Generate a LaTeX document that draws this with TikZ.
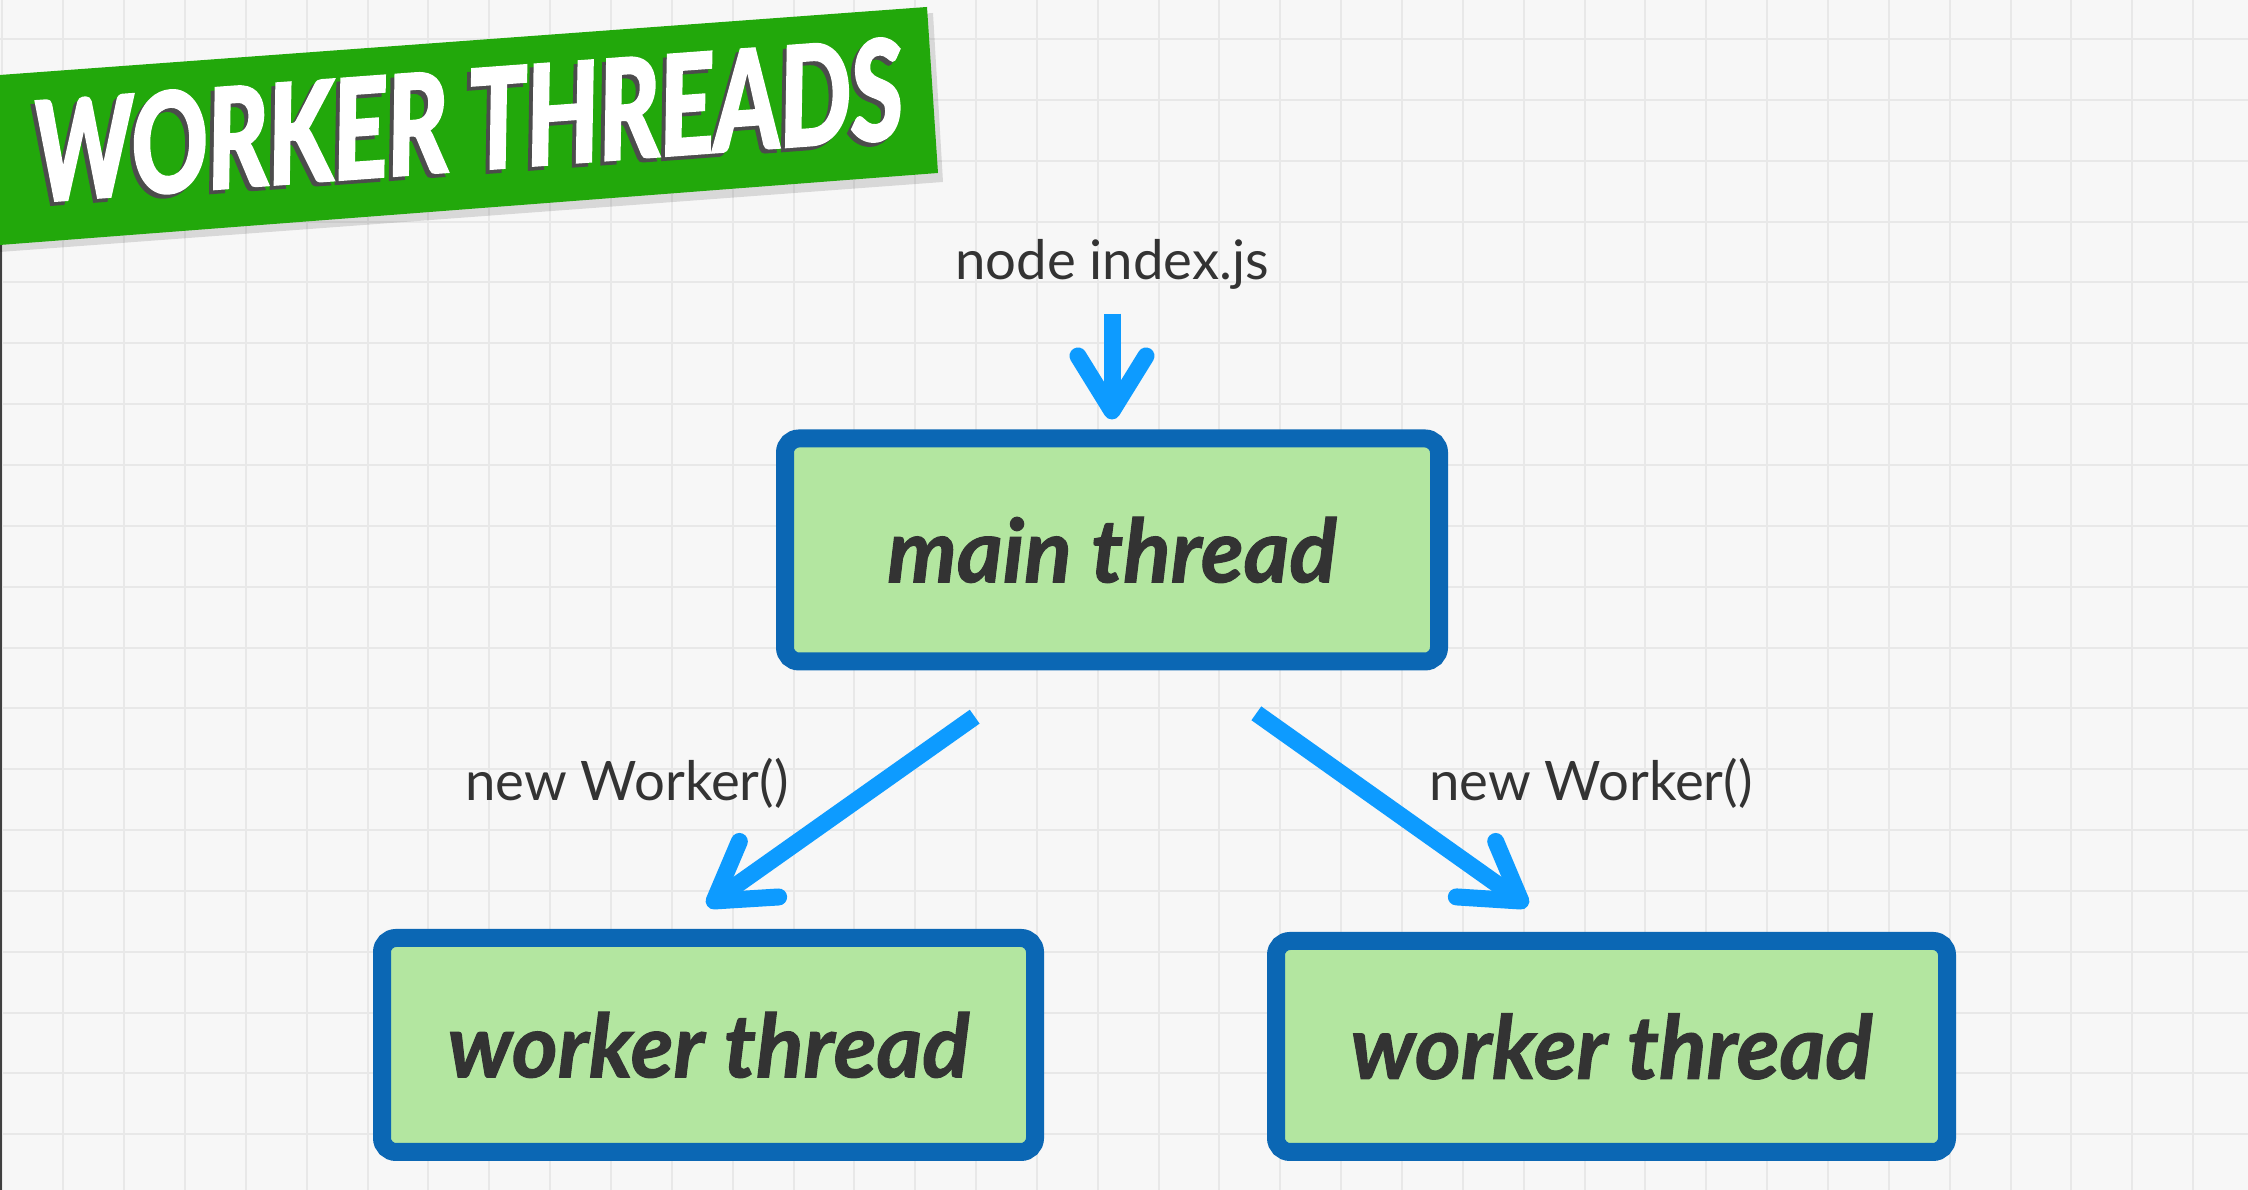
\documentclass[tikz,border=0pt]{standalone}
\usepackage{fontspec}
\setmainfont{Lato}
\newfontfamily\titlefont{Lato}[FakeBold=3]
\newfontfamily\boxfont{Lato}[FakeBold=1.2]
\usetikzlibrary{positioning,calc,arrows.meta}

\definecolor{paper}{HTML}{F7F7F7}
\definecolor{gridline}{HTML}{E8E8E8}
\definecolor{bannergreen}{HTML}{22A80B}
\definecolor{boxblue}{HTML}{0B67B4}
\definecolor{boxgreen}{HTML}{B3E6A0}
\definecolor{arrowblue}{HTML}{0D9BFF}
\definecolor{inkgray}{HTML}{333333}

\tikzset{
  threadbox/.style={draw=boxblue, fill=boxgreen, line width=0.18cm,
    rounded corners=0.14cm, text=inkgray,
    font=\fontsize{25}{30}\selectfont\boxfont\bfseries\itshape},
  flowarrow/.style={draw=arrowblue, line width=0.17cm,
    -{Straight Barb[length=0.55cm,width=0.68cm,round]}},
  codelabel/.style={text=inkgray, inner sep=0pt, font=\fontsize{15.5}{18}\selectfont},
}

\begin{document}
\begin{tikzpicture}
    \useasboundingbox (0,0) rectangle (22.48,11.9);

    % Paper with grid
    \fill[paper] (0,0) rectangle (22.48,11.9);
    \foreach \gx in {0,...,36}
        \draw[gridline, line width=0.02cm] ({0.0245+0.6085*\gx},0) -- ++(0,11.9);
    \foreach \gy in {0,...,18}
        \draw[gridline, line width=0.02cm] (0,{11.5095-0.6085*\gy}) -- ++(22.48,0);
    \draw[black!75, line width=0.02cm] (0.01,0) -- (0.01,9.5);

    % Title banner
    \fill[black, opacity=0.12] (0,11.09) -- (9.33,11.77) -- (9.43,10.08) -- (0,9.38) -- cycle;
    \fill[bannergreen] (0,11.15) -- (9.27,11.83) -- (9.38,10.17) -- (0,9.45) -- cycle;
    \node[rotate=4.2, text=black!70] at (4.64,10.66)
        {\resizebox{8.7cm}{1.0cm}{\titlefont\bfseries\itshape WORKER THREADS}};
    \node[rotate=4.2, text=white] (title) at (4.68,10.70)
        {\resizebox{8.7cm}{1.0cm}{\titlefont\bfseries\itshape WORKER THREADS}};

    % Command
    \node[codelabel] (cmd) at (11.12,9.26) {node index.js};

    % Threads
    \node[threadbox, minimum width=6.54cm, minimum height=2.23cm] (main) at (11.12,6.40) {main thread};
    \node[threadbox, minimum width=6.53cm, minimum height=2.14cm] (wl) at (7.085,1.45) {worker thread};
    \node[threadbox, minimum width=6.71cm, minimum height=2.11cm] (wr) at (16.115,1.435) {worker thread};

    % Labels
    \node[codelabel] (newl) at (6.27,4.07) {new Worker()};
    \node[codelabel] (newr) at (15.91,4.07) {new Worker()};

    % Arrows
    \draw[flowarrow, shorten <=0.24cm, shorten >=0.1cm] (cmd.south) -- (main.north);
    \draw[flowarrow, shorten <=0.80cm, shorten >=0.40cm] ($(main.south)+(-0.72,0)$) -- ($(wl.north)+(-0.34,0)$);
    \draw[flowarrow, shorten <=0.74cm, shorten >=0.45cm] ($(main.south)+(0.84,0)$) -- ($(wr.north)+(-0.47,0)$);
\end{tikzpicture}
\end{document}
